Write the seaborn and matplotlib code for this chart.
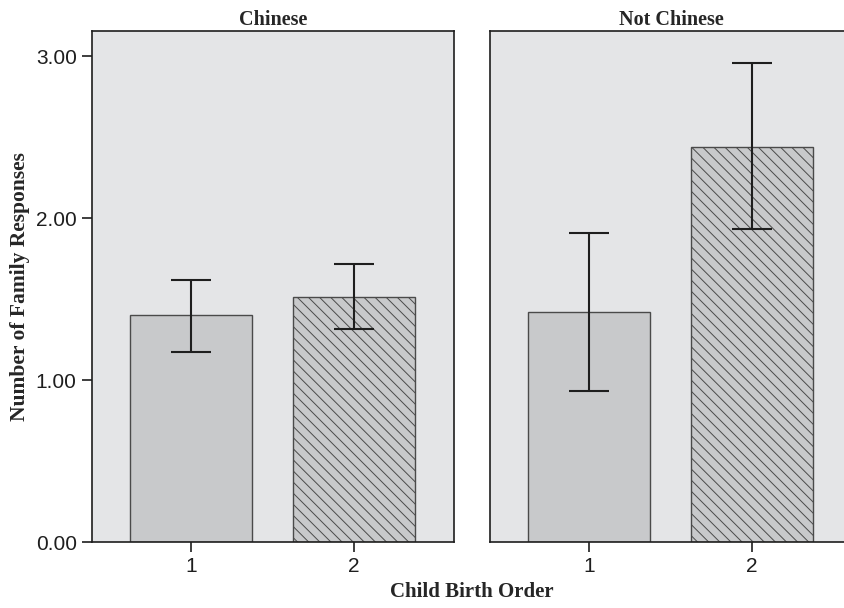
import matplotlib
matplotlib.use('Agg')
import matplotlib.pyplot as plt
import seaborn as sns
import numpy as np

# Values
groups = ['Chinese', 'Not Chinese']
birth_order = ['1', '2']
chinese_mean = [1.40, 1.515]
chinese_lo = [1.175, 1.317]
chinese_hi = [1.62, 1.715]
notchinese_mean = [1.42, 2.44]
notchinese_lo = [0.93, 1.93]
notchinese_hi = [1.91, 2.96]
y_ticks = [0.0, 1.0, 2.0, 3.0]

sns.set_style('white')
plt.rcParams['hatch.linewidth'] = 0.7
plt.rcParams['hatch.color'] = '#2a2a2a'

bg = '#e4e5e7'
bar_color = '#c8c9cb'
edge = '#4a4a4a'
serif = 'Liberation Serif'
sans = 'Liberation Sans'

fig = plt.figure(figsize=(8.44, 6.08), dpi=100)
W, H = 844, 608
ax1 = fig.add_axes([92 / W, 66 / H, 362 / W, 511 / H])
ax2 = fig.add_axes([490 / W, 66 / H, 362 / W, 511 / H])

panels = [
    (ax1, groups[0], chinese_mean, chinese_lo, chinese_hi),
    (ax2, groups[1], notchinese_mean, notchinese_lo, notchinese_hi),
]

for ax, title, means, lo, hi in panels:
    sns.barplot(x=birth_order, y=means, ax=ax, color=bar_color,
                edgecolor=edge, linewidth=1.0, width=0.75, saturation=1)
    for p in ax.patches:
        p.set_facecolor(bar_color)
    ax.patches[1].set_hatch('\\\\\\')
    yerr = [np.array(means) - np.array(lo), np.array(hi) - np.array(means)]
    ax.errorbar(x=[0, 1], y=means, yerr=yerr, fmt='none', ecolor='#1e1e1e',
                elinewidth=1.5, capsize=14.4, capthick=1.5)
    ax.set_facecolor(bg)
    ax.set_xlim(-0.607, 1.613)
    ax.set_ylim(0, 3.155)
    ax.set_title(title, fontfamily=serif, fontweight='bold', fontsize=14.5, pad=4)
    ax.set_xlabel('')
    for s in ax.spines.values():
        s.set_color('#1e1e1e')
        s.set_linewidth(1.2)
    ax.tick_params(axis='x', length=7, width=1.2, color='#1e1e1e',
                   labelsize=15, pad=4, bottom=True)
    for lab in ax.get_xticklabels():
        lab.set_fontfamily(sans)
        lab.set_color('#1e1e1e')

ax2.spines['right'].set_visible(False)

ax1.set_yticks(y_ticks)
ax1.set_yticklabels([f'{v:.2f}' for v in y_ticks], fontfamily=sans,
                    fontsize=15, color='#1e1e1e')
ax1.tick_params(axis='y', length=7, width=1.2, color='#1e1e1e', left=True, pad=4)
ax1.set_ylabel('Number of Family Responses', fontfamily=serif,
               fontweight='bold', fontsize=15.5, labelpad=4)
ax2.set_yticks([])
ax2.set_ylabel('')

fig.text(472 / W, 1 - 592 / H, 'Child Birth Order', fontfamily=serif,
         fontweight='bold', fontsize=15, ha='center', va='center')

fig.savefig('out.png', dpi=100)
